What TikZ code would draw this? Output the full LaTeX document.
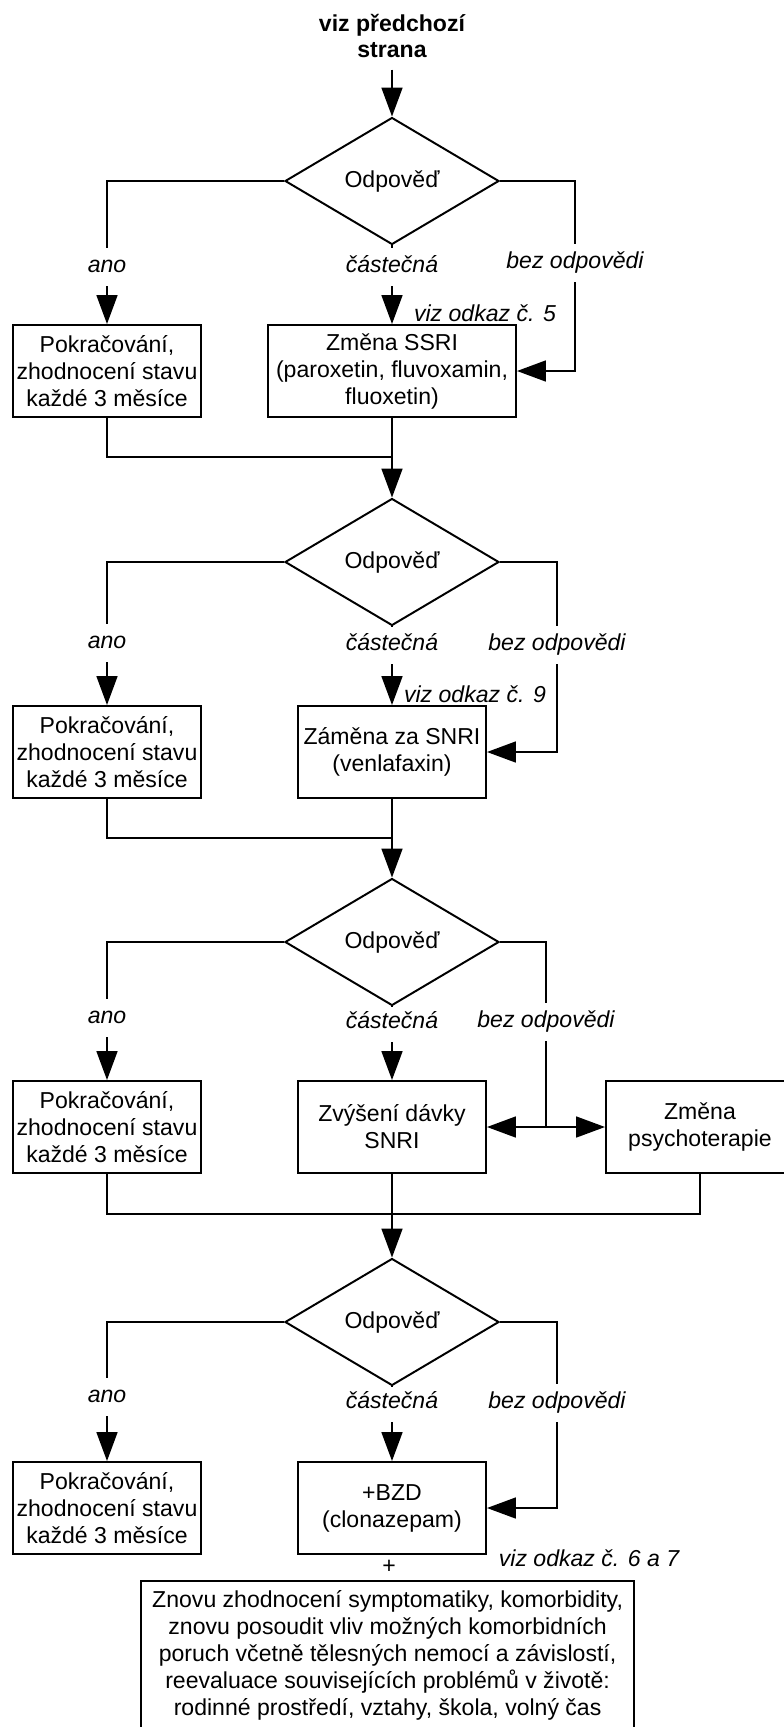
\documentclass[tikz,border=0pt]{standalone}
\usepackage{fontspec}
\setmainfont{Liberation Sans}
\usepackage{tikz}
\usetikzlibrary{arrows.meta,shapes.geometric}
\pgfdeclarelayer{bg}
\pgfsetlayers{bg,main}

\begin{document}
\begin{tikzpicture}[scale=1,
    every node/.style={font=\fontsize{16.4}{19.2}\selectfont},
    box/.style={draw, line width=1.4pt, align=center, minimum width=4.7cm, minimum height=2.3cm, inner sep=2pt},
    rozhod/.style={draw, diamond, line width=1.4pt, minimum width=5.35cm, minimum height=3.175cm, inner sep=0pt},
    lbl/.style={font=\fontsize{16.4}{19.2}\selectfont\itshape, minimum height=0.95cm, inner sep=0pt, text height=12pt, text depth=3.5pt},
    odkaz/.style={font=\fontsize{16.4}{19.2}\selectfont\itshape},
    spoj/.style={line width=1.4pt},
    sip/.style={line width=1.4pt, -{Triangle[length=0.72cm,width=0.52cm]}}]

    \useasboundingbox (0,0) rectangle (19.6,-43.175);

    \node [font=\fontsize{16.4}{19.2}\selectfont\bfseries, align=center, inner ysep=8pt] (start) at (9.8,-0.9) {viz předchozí\\strana};

    % první odpověď
    \node [rozhod] (odp1) at (9.8,-4.525) {Odpověď};
    \node [lbl] (ano1) at (2.675,-6.675) {ano};
    \node [lbl] (cast1) at (9.8,-6.675) {částečná};
    \node [lbl] (bez1) at (14.375,-6.575) {bez odpovědi};
    \node [odkaz] (odk1) at (12.125,-7.825) {viz odkaz č. 5};
    \node [box] (pokr1) at (2.675,-9.275) {Pokračování,\\zhodnocení stavu\\každé 3 měsíce};
    \node [box, minimum width=6.2cm] (zmena1) at (9.8,-9.275) {Změna SSRI\\(paroxetin, fluvoxamin,\\fluoxetin)};
    \coordinate (j1) at (9.8,-11.425);

    % druhá odpověď
    \node [rozhod] (odp2) at (9.8,-14.05) {Odpověď};
    \node [lbl] (ano2) at (2.675,-16.075) {ano};
    \node [lbl] (cast2) at (9.8,-16.125) {částečná};
    \node [lbl] (bez2) at (13.925,-16.125) {bez odpovědi};
    \node [odkaz] (odk2) at (11.875,-17.35) {viz odkaz č. 9};
    \node [box] (pokr2) at (2.675,-18.8) {Pokračování,\\zhodnocení stavu\\každé 3 měsíce};
    \node [box] (zamena) at (9.8,-18.8) {Záměna za SNRI\\(venlafaxin)};
    \coordinate (j2) at (9.8,-20.95);

    % třetí odpověď
    \node [rozhod] (odp3) at (9.8,-23.55) {Odpověď};
    \node [lbl] (ano3) at (2.675,-25.45) {ano};
    \node [lbl] (cast3) at (9.8,-25.575) {částečná};
    \node [lbl] (bez3) at (13.65,-25.55) {bez odpovědi};
    \node [box] (pokr3) at (2.675,-28.175) {Pokračování,\\zhodnocení stavu\\každé 3 měsíce};
    \node [box] (zvys) at (9.8,-28.175) {Zvýšení dávky\\SNRI};
    \node [box] (psych) at (17.5,-28.175) {Změna\\psychoterapie};
    \coordinate (rozv) at (13.65,-28.175);
    \coordinate (j3) at (9.8,-30.35);

    % čtvrtá odpověď
    \node [rozhod] (odp4) at (9.8,-33.05) {Odpověď};
    \node [lbl] (ano4) at (2.675,-34.925) {ano};
    \node [lbl] (cast4) at (9.8,-35.075) {částečná};
    \node [lbl] (bez4) at (13.925,-35.075) {bez odpovědi};
    \node [box] (pokr4) at (2.675,-37.7) {Pokračování,\\zhodnocení stavu\\každé 3 měsíce};
    \node [box] (bzd) at (9.8,-37.7) {+BZD\\(clonazepam)};
    \node (plus) at (9.725,-39.175) {+};
    \node [odkaz] (odk3) at (14.725,-38.95) {viz odkaz č. 6 a 7};
    \node [box, minimum width=12.325cm, minimum height=3.7cm] (znovu) at (9.69,-41.375) {Znovu zhodnocení symptomatiky, komorbidity,\\znovu posoudit vliv možných komorbidních\\poruch včetně tělesných nemocí a závislostí,\\reevaluace souvisejících problémů v životě:\\rodinné prostředí, vztahy, škola, volný čas};

    \begin{pgfonlayer}{bg}
        \draw[sip] (start) -- (odp1);
        \draw[spoj] (odp1.west) -| (ano1);
        \draw[sip] (ano1) -- (pokr1);
        \draw[spoj] (odp1) -- (cast1);
        \draw[sip] (cast1) -- (zmena1);
        \draw[spoj] (odp1.east) -| (bez1);
        \draw[sip] (bez1) |- (zmena1);
        \draw[spoj] (pokr1) |- (j1);
        \draw[sip] (zmena1) -- (odp2);

        \draw[spoj] (odp2.west) -| (ano2);
        \draw[sip] (ano2) -- (pokr2);
        \draw[spoj] (odp2) -- (cast2);
        \draw[sip] (cast2) -- (zamena);
        \draw[spoj] (odp2.east) -| (bez2);
        \draw[sip] (bez2) |- (zamena);
        \draw[spoj] (pokr2) |- (j2);
        \draw[sip] (zamena) -- (odp3);

        \draw[spoj] (odp3.west) -| (ano3);
        \draw[sip] (ano3) -- (pokr3);
        \draw[spoj] (odp3) -- (cast3);
        \draw[sip] (cast3) -- (zvys);
        \draw[spoj] (odp3.east) -| (bez3);
        \draw[spoj] (bez3) -- (rozv);
        \draw[sip] (rozv) -- (zvys);
        \draw[sip] (rozv) -- (psych);
        \draw[spoj] (pokr3) |- (j3) -| (psych);
        \draw[sip] (zvys) -- (odp4);

        \draw[spoj] (odp4.west) -| (ano4);
        \draw[sip] (ano4) -- (pokr4);
        \draw[spoj] (odp4) -- (cast4);
        \draw[sip] (cast4) -- (bzd);
        \draw[spoj] (odp4.east) -| (bez4);
        \draw[sip] (bez4) |- (bzd);
    \end{pgfonlayer}
\end{tikzpicture}
\end{document}
